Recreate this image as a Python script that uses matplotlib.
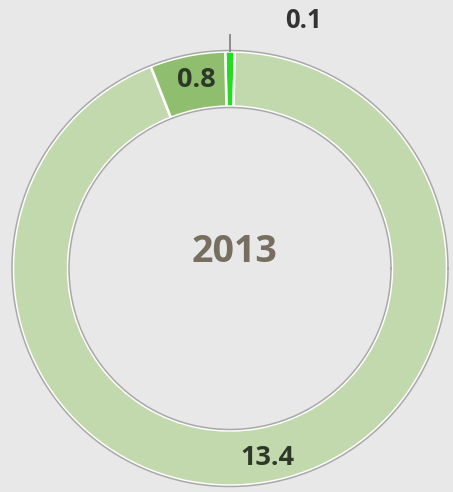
import matplotlib.pyplot as plt
import numpy as np

values = [0.1, 13.4, 0.8]
labels = ["0.1", "13.4", "0.8"]
colors = ["#22dd22", "#c2d9ad", "#8fbe6e"]
title = "2013"

W, H = 453, 492
fig = plt.figure(figsize=(W / 100, H / 100), dpi=100)
fig.patch.set_facecolor("#e8e8e8")
ax = fig.add_axes([0, 0, 1, 1])
ax.set_facecolor("#e8e8e8")

cx, cy = 230, H - 268.5
r_out, r_in = 217, 162
total = sum(values)
start = 90 + values[0] / total * 360 / 2

wedges, _ = ax.pie(values, colors=colors, startangle=start, counterclock=False,
                   center=(cx, cy), radius=r_out, frame=True,
                   wedgeprops=dict(width=r_out - r_in, edgecolor="white", linewidth=1.8))
ax.set_xlim(0, W)
ax.set_ylim(0, H)
ax.set_aspect("equal")
ax.axis("off")

# grey outlines of the ring
t = np.linspace(0, 2 * np.pi, 400)
ax.plot(cx + (r_out + 1) * np.cos(t), cy + (r_out + 1) * np.sin(t), color="#a8a8a8", lw=1.1)
ax.plot(cx + (r_in - 1) * np.cos(t), cy + (r_in - 1) * np.sin(t), color="#a8a8a8", lw=1.1)

# labels in the ring
r_mid = (r_out + r_in) / 2
for w, lab in zip(wedges, labels):
    mid = np.deg2rad((w.theta1 + w.theta2) / 2)
    if lab == "0.1":
        # outside label with a short leader line
        ax.plot([cx + (r_out + 1) * np.cos(mid), cx + (r_out + 17) * np.cos(mid)],
                [cy + (r_out + 1) * np.sin(mid), cy + (r_out + 17) * np.sin(mid)],
                color="#8c8c8c", lw=1.4)
        ax.text(cx + 74, cy + r_out + 31, lab, ha="center", va="center",
                fontsize=18.5, fontweight="bold", color="#333333", family="Open Sans")
    else:
        rr = r_mid + 3
        ax.text(cx + rr * np.cos(mid) + 4, cy + rr * np.sin(mid), lab,
                ha="center", va="center", fontsize=19.5, fontweight="bold",
                color="#2e3829", family="Open Sans")

ax.text(cx + 5, cy + 17, title, ha="center", va="center", fontsize=27,
        fontweight="bold", color="#766e5f", family="Open Sans")

fig.savefig("out.png", dpi=100, facecolor=fig.get_facecolor())
